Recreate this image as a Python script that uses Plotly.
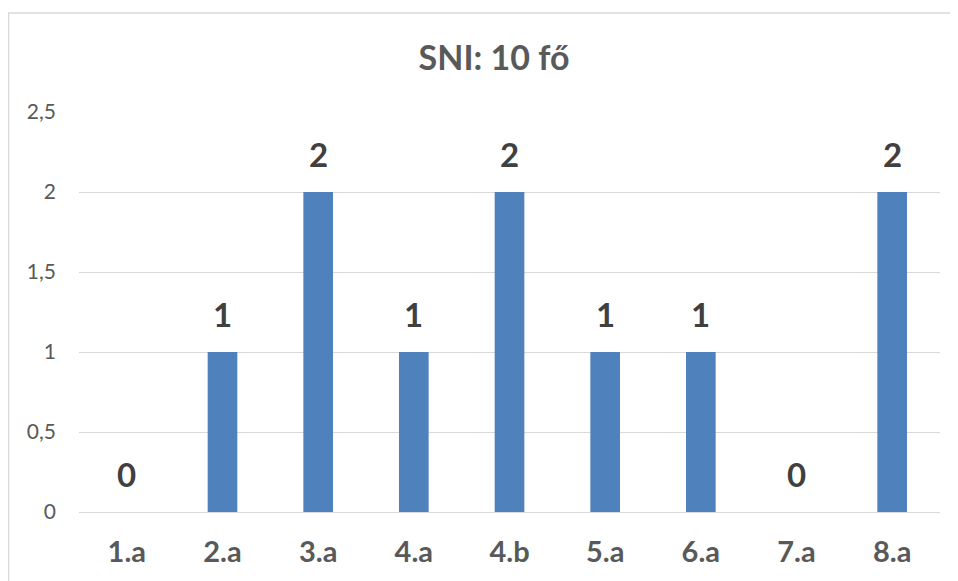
import plotly.graph_objects as go

categories = ["1.a", "2.a", "3.a", "4.a", "4.b", "5.a", "6.a", "7.a", "8.a"]
values = [0, 1, 2, 1, 2, 1, 1, 0, 2]
y_ticks = [0, 0.5, 1, 1.5, 2, 2.5]
title_text = "SNI: 10 fő"

FONT = "Lato, Carlito, Calibri, sans-serif"

# page has an 8px body margin, so the figure is sized/offset to compensate
W, H = 950, 573
L, R, T, B = 71, 18, 104, 69
PW, PH = W - L - R, H - T - B

fig = go.Figure(go.Bar(
    x=categories, y=values,
    marker=dict(color="#4F81BD", line=dict(width=0)),
    width=0.31,
    hoverinfo="x+y",
))

for c, v in zip(categories, values):
    fig.add_annotation(x=c, y=v, text=f"<b>{v}</b>", showarrow=False,
                       yanchor="bottom", yshift=16,
                       font=dict(family=FONT, size=33, color="#404040"))

fig.update_layout(
    width=W, height=H,
    margin=dict(l=L, r=R, t=T, b=B),
    paper_bgcolor="white", plot_bgcolor="white",
    separators=", ",
    showlegend=False,
    title=dict(text=f"<b>{title_text}</b>", x=(494 - 8) / W, xanchor="center",
               xref="container", y=1 - 50 / H, yanchor="middle",
               font=dict(family=FONT, size=34, color="#595959")),
    xaxis=dict(showgrid=False, showline=False, zeroline=False,
               tickfont=dict(family=FONT, size=29, color="#595959", weight="bold"),
               ticklabelstandoff=20),
    yaxis=dict(range=[0, 2.5], tickvals=y_ticks, showgrid=True, gridcolor="#D9D9D9",
               gridwidth=1.3, zeroline=True, zerolinecolor="#D9D9D9", zerolinewidth=1.3,
               showline=False,
               tickfont=dict(family=FONT, size=21, color="#595959"),
               ticklabelstandoff=22),
    shapes=[dict(type="rect", xref="paper", yref="paper",
                 x0=(0.5 - L) / PW, x1=1 + 40 / PW, y0=-(B + 40) / PH, y1=1 + (T - 5) / PH,
                 line=dict(color="#D9D9D9", width=1.5), fillcolor="rgba(0,0,0,0)", layer="below")],
)

fig.write_html("out.html")
